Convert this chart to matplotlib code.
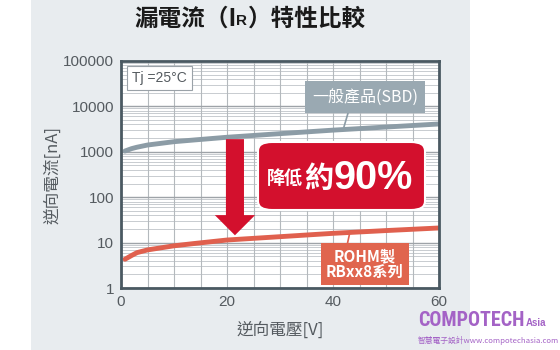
#!/usr/bin/env python3
"""Leakage current (IR) comparison: general SBD vs ROHM RBxx8 series."""

import matplotlib
matplotlib.use("Agg")
import matplotlib.pyplot as plt
import matplotlib.ticker as ticker
from matplotlib.patches import Rectangle, FancyBboxPatch

CJK = ["Noto Sans CJK TC", "DejaVu Sans"]
NUM = ["Liberation Sans", "DejaVu Sans"]

# --- data ---
sbd_v = [0.75, 2, 3, 5, 10, 14, 20, 30, 40, 50, 60]
sbd_ir = [1040, 1175, 1260, 1410, 1670, 1830, 2090, 2510, 3000, 3510, 4100]

rohm_v = [0.75, 2, 3, 5, 10, 14, 20, 30, 40, 50, 60]
rohm_ir = [4.3, 5.2, 6.0, 6.9, 8.5, 9.6, 11.4, 13.5, 16, 18.4, 21]

x_ticks = [0, 20, 40, 60]
y_ticks = [1, 10, 100, 1000, 10000, 100000]

GRAY_LINE = "#8c9ca6"
RED_LINE = "#e0604e"
CRIMSON = "#d3102d"
PURPLE = "#a463c6"
TXT = "#555b60"

fig = plt.figure(figsize=(5.6, 3.5), dpi=100)
fig.patch.set_facecolor("white")

# light panel behind everything
fig.patches.append(Rectangle((31 / 560, 0), (470 - 31) / 560, 1, transform=fig.transFigure,
                             facecolor="#e8ecef", edgecolor="none", zorder=-5))

ax = fig.add_axes([121 / 560, 1 - 288 / 350, (439 - 121) / 560, (288 - 61) / 350])
ax.set_facecolor("white")
ax.set_yscale("log")
ax.set_xlim(0, 60)
ax.set_ylim(1, 100000)

ax.xaxis.set_major_locator(ticker.FixedLocator(x_ticks))
ax.yaxis.set_major_locator(ticker.FixedLocator(y_ticks))
ax.yaxis.set_minor_locator(ticker.NullLocator())
ax.yaxis.set_major_formatter(ticker.FuncFormatter(lambda v, _: f"{v:.0f}"))
ax.tick_params(which="both", length=0, labelsize=11, labelcolor=TXT, pad=5)
for lab in ax.get_xticklabels() + ax.get_yticklabels():
    lab.set_family(NUM)
for sp in ax.spines.values():
    sp.set_color("#4a5962")
    sp.set_linewidth(2)
    sp.set_zorder(8)

# grid drawn by hand: every 5 V, decades and 2..9 sub-decades
grid_v = ticker.MultipleLocator(5).tick_values(0, 60)
grid_minor = ticker.LogLocator(base=10, subs=range(2, 10)).tick_values(1, 100000)
grid_minor = [g for g in grid_minor if 1 < g < 100000]
ax.hlines(grid_minor, 0, 60, colors="#c8ccd0", linewidth=0.7, zorder=1)
ax.hlines(y_ticks, 0, 60, colors="#9ea3a8", linewidth=1.0, zorder=1.5)
ax.vlines(grid_v, 1, 100000, colors="#b4b9bd", linewidth=0.8, zorder=1.2)

ax.plot(sbd_v, sbd_ir, color=GRAY_LINE, linewidth=3.5, solid_capstyle="round", zorder=4)
ax.plot(rohm_v, rohm_ir, color=RED_LINE, linewidth=3.5, solid_capstyle="round", zorder=4)

ax.set_xlabel("逆向電壓[V]", family=CJK, fontsize=12, color=TXT, labelpad=9)
ax.set_ylabel("逆向電流[nA]", family=CJK, fontsize=12, color=TXT, labelpad=1)

# Tj box
ax.text(0.035, 0.925, "Tj =25°C", transform=ax.transAxes, family=NUM, fontsize=10,
        color=TXT, va="center", ha="left", zorder=6,
        bbox=dict(boxstyle="square,pad=0.35", facecolor="white", edgecolor="#9aa2a8", linewidth=0.8))

# reduction arrow (in data coords)
ax.annotate("", xy=(21.5, 14.5), xytext=(21.5, 1900),
            arrowprops=dict(arrowstyle="simple,head_length=1.45,head_width=2.9,tail_width=1.3",
                            facecolor=CRIMSON, edgecolor="none", shrinkA=0, shrinkB=0),
            zorder=5)

# red callout box
red_box = FancyBboxPatch((258 / 560, 1 - 210 / 350), (425 - 258) / 560, (210 - 142) / 350,
                         boxstyle="round,pad=0,rounding_size=0.025", transform=fig.transFigure,
                         facecolor=CRIMSON, edgecolor="white", linewidth=1.5, zorder=6,
                         clip_on=False)
ax.add_patch(red_box)
t1 = ax.text(267 / 560, 1 - 178 / 350, "降低", transform=fig.transFigure, family=CJK,
             fontsize=13, fontweight="bold", color="white", ha="left", va="center", zorder=7)
t2 = ax.annotate("約", xy=(1, 0.5), xycoords=t1, xytext=(1, 0), textcoords="offset points",
                 family=CJK, fontsize=21, fontweight="bold", color="white", va="center",
                 ha="left", zorder=7, annotation_clip=False)
ax.annotate("90%", xy=(1, 0.5), xycoords=t2, xytext=(0, 0), textcoords="offset points",
            family=NUM, fontsize=28.5, fontweight="bold", color="white", va="center", ha="left",
            zorder=7, annotation_clip=False)

# series labels
ax.plot([0.714, 0.701], [0.771, 0.709], transform=ax.transAxes, color=GRAY_LINE, linewidth=1.2, zorder=3)
ax.text(0.767, 0.841, "一般產品(SBD)", transform=ax.transAxes, family=CJK, fontsize=11.5,
        color="white", ha="center", va="center", zorder=6,
        bbox=dict(boxstyle="square,pad=0.45", facecolor="#9aa9b2", edgecolor="none"))
ax.plot([0.711, 0.720], [0.189, 0.247], transform=ax.transAxes, color=RED_LINE, linewidth=1.2, zorder=3)
ax.text(0.767, 0.106, "ROHM製\nRBxx8系列", transform=ax.transAxes, family=CJK, fontsize=11,
        fontweight="bold", color="white", ha="center", va="center", linespacing=1.0, zorder=6,
        bbox=dict(boxstyle="square,pad=0.35", facecolor="#e0654e", edgecolor="none"))

# title with subscript R
tt = ax.text(134 / 560, 1 - 19 / 350, "漏電流（I", transform=fig.transFigure, family=CJK,
             fontsize=17, fontweight="bold", color="#1a1a1a", ha="left", va="center",
             clip_on=False)
ax.annotate("R", xy=(1, 0.12), xycoords=tt, family=NUM, fontsize=11, fontweight="bold",
            color="#1a1a1a", ha="left", va="bottom", annotation_clip=False)
ax.annotate("）特性比較", xy=(1, 0), xycoords=tt, xytext=(8, 0), textcoords="offset points",
            family=CJK, fontsize=17, fontweight="bold", color="#1a1a1a", ha="left",
            va="bottom", annotation_clip=False)

# watermark
wm = ax.text(418 / 560, 1 - 320 / 350, "COMPOTECH", transform=fig.transFigure,
             family=["Liberation Sans Narrow", "Roboto Condensed", "Liberation Sans"],
             fontsize=14.5, fontweight="bold", color=PURPLE, ha="left", va="center", clip_on=False)
ax.annotate("Asia", xy=(1, 0.1), xycoords=wm, xytext=(1, 0), textcoords="offset points",
            family=NUM, fontsize=7, fontweight="bold", color=PURPLE, ha="left", va="bottom",
            annotation_clip=False)
ax.text(418 / 560, 1 - 340 / 350, "智慧電子設計www.compotechasia.com", transform=fig.transFigure,
        family=CJK, fontsize=5.6, color=PURPLE, ha="left", va="center", clip_on=False)

fig.savefig("out.png", dpi=100)
plt.close(fig)
